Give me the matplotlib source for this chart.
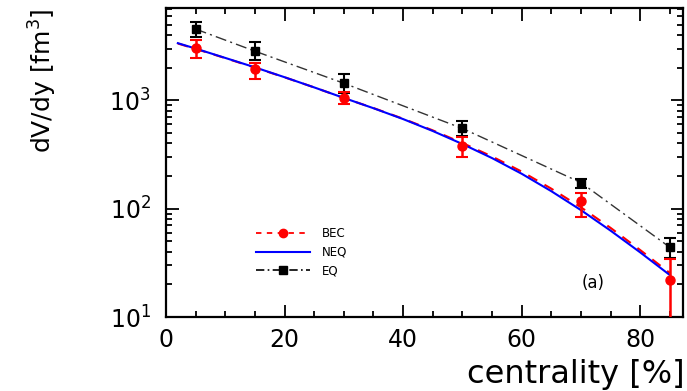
"""Volume per unit rapidity vs centrality for the three freeze-out scenarios."""

import numpy as np
import matplotlib.pyplot as plt
from matplotlib.lines import Line2D
from matplotlib.ticker import MultipleLocator

# centrality bins (%)
cent = [5, 15, 30, 50, 70, 85]

# BEC points and asymmetric errors
bec_vals = [3030, 1940, 1045, 375, 119, 22]
bec_err_lo = [585, 375, 127, 78, 35, 21.5]
bec_err_hi = [560, 260, 141, 79, 22, 12]

# EQ points and errors
eq_vals = [4540, 2840, 1436, 550, 174, 44]
eq_err_lo = [710, 500, 260, 85, 20, 9]
eq_err_hi = [730, 600, 304, 90, 14, 10]

# model curves
curve_x = [2, 5, 10, 15, 20, 25, 30, 35, 40, 45, 50, 55, 60, 65, 70, 75, 80, 85]
neq_curve = [3365, 3000, 2460, 2014, 1633, 1315, 1052, 845, 671, 521, 395,
             293, 210, 145, 97, 62.7, 39.5, 24.4]
bec_curve = [3340, 2980, 2450, 2000, 1630, 1315, 1050, 848, 676, 528, 404,
             303, 220, 153, 103, 66.5, 41.5, 25.5]

fig = plt.figure(figsize=(6.87, 3.91), dpi=100)
ax = fig.add_axes([0.2416, 0.189, 0.7525, 0.7905])

ax.plot(curve_x, bec_curve, color="red", ls=(0, (5, 4)), lw=1.5, zorder=2)
ax.plot(curve_x, neq_curve, color="blue", lw=1.5, zorder=3)
ax.plot(cent, eq_vals, color="#333333", ls=(0, (8, 3, 1.5, 3)), lw=1.0, zorder=2)

ax.errorbar(cent, eq_vals, yerr=[eq_err_lo, eq_err_hi], fmt="s", color="black",
            ms=6, capsize=4, elinewidth=1.5, capthick=1.5, zorder=4)
ax.errorbar(cent, bec_vals, yerr=[bec_err_lo, bec_err_hi], fmt="o", color="red",
            ms=6.5, capsize=4, elinewidth=1.8, capthick=1.5, zorder=5)

ax.set_yscale("log")
ax.set_ylim(10, 7100)
ax.set_xlim(0, 87.2)
ax.xaxis.set_major_locator(MultipleLocator(20))
ax.xaxis.set_minor_locator(MultipleLocator(5))

ax.tick_params(which="both", direction="in", top=True, right=True, width=1.3)
ax.tick_params(which="major", length=9)
ax.tick_params(which="minor", length=4.5)
ax.tick_params(axis="x", labelsize=17, pad=8)
ax.tick_params(axis="y", labelsize=17, pad=11)
for s in ax.spines.values():
    s.set_linewidth(1.6)

handles = [
    Line2D([], [], color="red", ls=(0, (3, 3)), lw=1.3, marker="o", ms=6),
    Line2D([], [], color="blue", lw=1.5),
    Line2D([], [], color="black", ls=(0, (5, 2, 1, 2)), lw=1.2, marker="s", ms=6),
]
ax.legend(handles, ["BEC", "NEQ", "EQ"], loc="center left",
          bbox_to_anchor=(0.174, 0.21), frameon=False, fontsize=8.5,
          handlelength=4.6, handletextpad=1.0, labelspacing=0.5,
          borderpad=0, borderaxespad=0)

ax.text(72, 20.6, "(a)", fontsize=12, ha="center", va="center")

fig.text(43 / 687, 1 - 8 / 391, "dV/dy [fm$^3$]", rotation=90, fontsize=18,
         ha="center", va="top")
fig.text(685 / 687, 1 - 375 / 391, "centrality [%]", fontsize=23,
         ha="right", va="center")

fig.savefig("out.png", dpi=100)
